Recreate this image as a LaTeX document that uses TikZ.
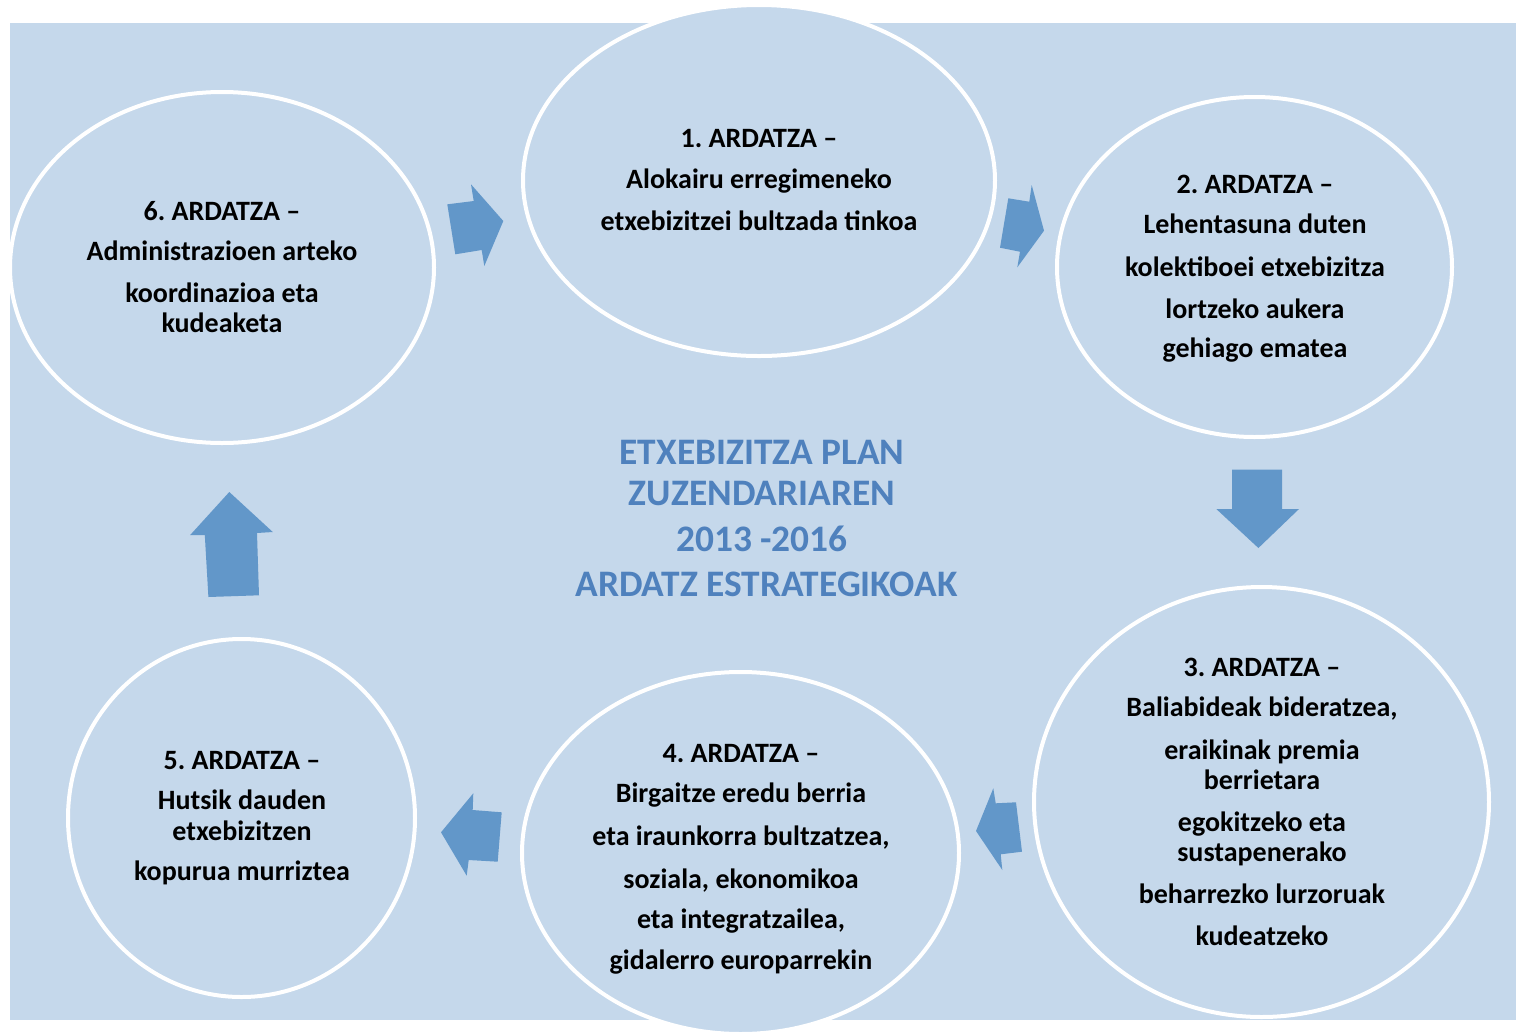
\documentclass[tikz,border=0pt]{standalone}
\usepackage{fontspec}
\setmainfont{Carlito}
\usetikzlibrary{shapes.geometric}
\definecolor{bgblue}{HTML}{C5D8EB}
\definecolor{arrowblue}{HTML}{6297C9}
\definecolor{titleblue}{HTML}{4F81BD}
\frenchspacing
\begin{document}
\begin{tikzpicture}[x=0.5pt,y=-0.5pt,
  axis/.style={ellipse, draw=white, line width=2pt, fill=bgblue, inner sep=0pt, outer sep=0pt},
  body/.style={anchor=base, inner sep=0pt, font=\fontsize{14}{16}\selectfont\bfseries\frenchspacing},
  titletext/.style={anchor=base, inner sep=0pt, text=titleblue, font=\fontsize{18.7}{22}\selectfont\bfseries},
  blockarrow/.style={fill=arrowblue}]
\useasboundingbox (0,0) rectangle (1516,1034);
\fill[bgblue] (10,23) rectangle (1516,1020);
% ellipses
\node[axis, minimum width=212pt, minimum height=175.5pt] (e6) at (222,267.5) {};
\node[axis, minimum width=236pt, minimum height=175.5pt] (e1) at (759,180.5) {};
\node[axis, minimum width=197.5pt, minimum height=170pt] (e2) at (1254.5,267) {};
\node[axis, minimum width=227.5pt, minimum height=215pt] (e3) at (1261.5,802) {};
\node[axis, minimum width=218.5pt, minimum height=181pt] (e4) at (740.5,853) {};
\node[axis, minimum width=173.5pt, minimum height=179pt] (e5) at (241.5,818) {};
% block arrows
\fill[blockarrow] (447.3,204.3) -- (473.7,201) -- (471,184.3) -- (503.3,221) -- (484.3,266) -- (481.7,250) -- (455.3,254.3) -- cycle;
\fill[blockarrow] (1008.3,198.3) -- (1029.3,201.7) -- (1031.7,185) -- (1044,230.7) -- (1017.3,267.3) -- (1020,251.7) -- (1000,247.7) -- cycle;
\fill[blockarrow] (1232,469.5) -- (1282,469.5) -- (1282,509) -- (1299,509) -- (1258.4,548) -- (1216.3,509) -- (1232,509) -- cycle;
\fill[blockarrow] (1016,802.3) -- (995.7,803.3) -- (993.3,788.3) -- (976,831) -- (1002.3,870) -- (1000.7,854.3) -- (1022,851.7) -- cycle;
\fill[blockarrow] (501.7,812.3) -- (472.7,810) -- (473.3,793.3) -- (441,832.3) -- (466.7,875.7) -- (468.7,860) -- (497.7,861.7) -- cycle;
\fill[blockarrow] (229.3,492) -- (272.8,532) -- (257,533) -- (259,595.3) -- (208.4,597) -- (204.8,535) -- (190.2,535) -- cycle;
% texts
\foreach \y/\t [count=\i] in {147/{1. ARDATZA –}, 188/{Alokairu erregimeneko}, 230/{etxebizitzei bultzada tinkoa}}
  \node[body] (t1-\i) at (759,\y) {\t};
\foreach \y/\t [count=\i] in {193/{2. ARDATZA –}, 233/{Lehentasuna duten}, 276/{kolektiboei etxebizitza}, 318/{lortzeko aukera}, 357.5/{gehiago ematea}}
  \node[body] (t2-\i) at (1255,\y) {\t};
\foreach \y/\t [count=\i] in {676/{3. ARDATZA –}, 716.5/{Baliabideak bideratzea,}, 759/{eraikinak premia}, 789/{berrietara}, 831/{egokitzeko eta}, 861/{sustapenerako}, 903/{beharrezko lurzoruak}, 945/{kudeatzeko}}
  \node[body] (t3-\i) at (1262,\y) {\t};
\foreach \y/\t [count=\i] in {762/{4. ARDATZA –}, 802/{Birgaitze eredu berria}, 845/{eta iraunkorra bultzatzea,}, 888/{soziala, ekonomikoa}, 928/{eta integratzailea,}, 969.5/{gidalerro europarrekin}}
  \node[body] (t4-\i) at (741,\y) {\t};
\foreach \y/\t [count=\i] in {769/{5. ARDATZA –}, 809/{Hutsik dauden}, 840/{etxebizitzen}, 880/{kopurua murriztea}}
  \node[body] (t5-\i) at (242,\y) {\t};
\foreach \y/\t [count=\i] in {220/{6. ARDATZA –}, 260/{Administrazioen arteko}, 302/{koordinazioa eta}, 332/{kudeaketa}}
  \node[body] (t6-\i) at (222,\y) {\t};
% title
\node[titletext] (title1) at (762,464.3) {ETXEBIZITZA PLAN};
\node[titletext] (title2) at (762,505) {ZUZENDARIAREN};
\node[titletext] (title3) at (762,551.7) {2013 -2016};
\node[titletext] (title4) at (766.5,596.7) {ARDATZ ESTRATEGIKOAK};
\end{tikzpicture}
\end{document}
